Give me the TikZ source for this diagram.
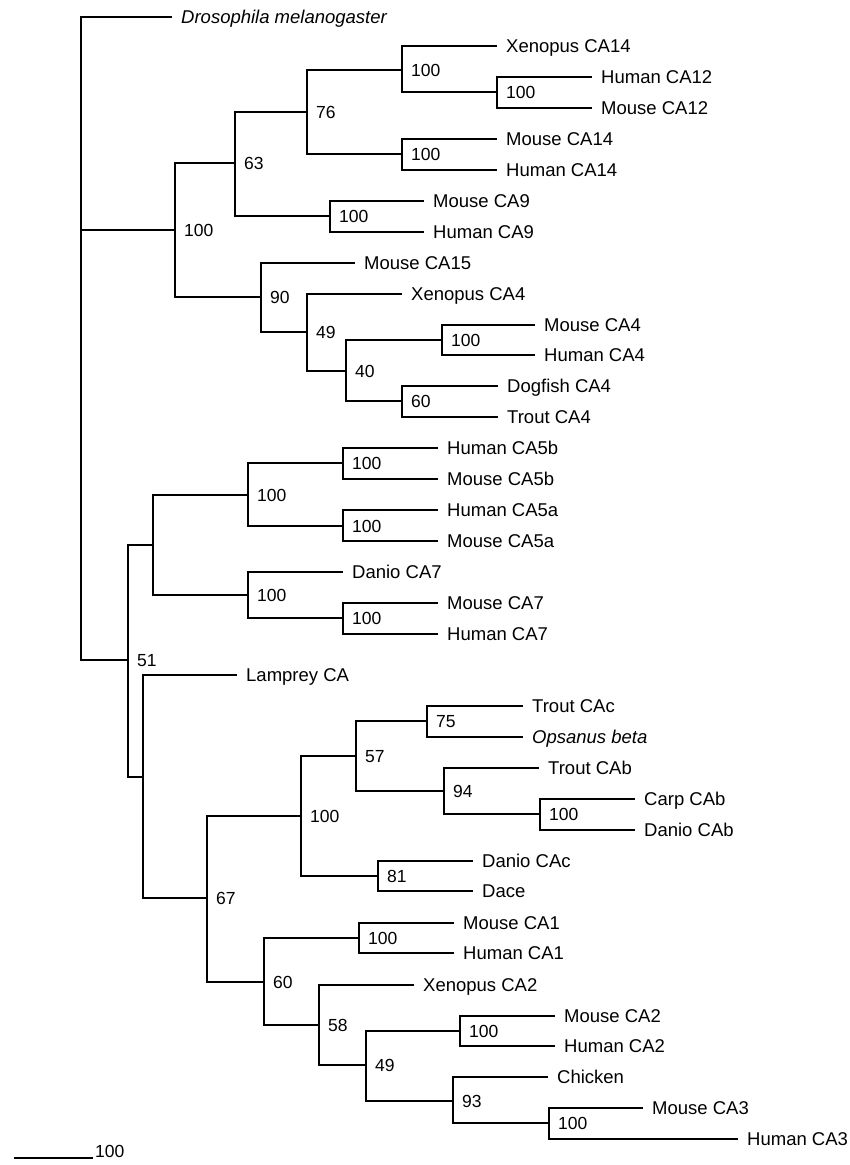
\documentclass[tikz,border=0pt]{standalone}
\usepackage{fontspec}
\setmainfont{Liberation Sans}
\usetikzlibrary{positioning}

\begin{document}
\begin{tikzpicture}[x=1pt,y=-1pt,
		branch/.style={line width=1.3pt},
		leaf/.style={anchor=west, inner xsep=9pt, inner ysep=0pt, text height=13.2pt, text depth=0pt, font=\fontsize{18.5}{20}\selectfont},
		supp/.style={anchor=west, inner xsep=9pt, inner ysep=0pt, text height=12.5pt, text depth=0pt, font=\fontsize{17.5}{19}\selectfont},
		junc/.style={anchor=west, inner sep=0pt, minimum size=0pt}]
		\useasboundingbox (0,0) rectangle (850,1165);

		% Root and outgroup
		\node[junc] (root) at (81,230) {};
		\node[leaf] (dros) at (172,17) {\itshape Drosophila melanogaster};

		% Upper clade
		\node[supp] (n100a) at (175,230) {100};
		\node[supp] (n63) at (235,163) {63};
		\node[supp] (n76) at (307,112) {76};
		\node[supp] (n100x) at (402,70) {100};
		\node[supp] (n100ca12) at (497,92) {100};
		\node[supp] (n100ca14) at (402,154) {100};
		\node[supp] (n100ca9) at (330,216) {100};
		\node[supp] (n90) at (261,297) {90};
		\node[supp] (n49a) at (307,332) {49};
		\node[supp] (n40) at (346,371) {40};
		\node[supp] (n100ca4) at (442,340) {100};
		\node[supp] (n60a) at (402,401) {60};

		\node[leaf] (xca14) at (497,46) {Xenopus CA14};
		\node[leaf] (hca12) at (592,77) {Human CA12};
		\node[leaf] (mca12) at (592,108) {Mouse CA12};
		\node[leaf] (mca14) at (497,139) {Mouse CA14};
		\node[leaf] (hca14) at (497,170) {Human CA14};
		\node[leaf] (mca9) at (424,201) {Mouse CA9};
		\node[leaf] (hca9) at (424,232) {Human CA9};
		\node[leaf] (mca15) at (355,263) {Mouse CA15};
		\node[leaf] (xca4) at (402,294) {Xenopus CA4};
		\node[leaf] (mca4) at (535,325) {Mouse CA4};
		\node[leaf] (hca4) at (535,355) {Human CA4};
		\node[leaf] (dca4) at (498,386) {Dogfish CA4};
		\node[leaf] (tca4) at (498,417) {Trout CA4};

		% CA5 / CA7 clade
		\node[supp] (n51) at (128,660) {51};
		\node[junc] (ca57) at (153,545) {};
		\node[supp] (n100ca5) at (248,495) {100};
		\node[supp] (n100ca5b) at (343,463) {100};
		\node[supp] (n100ca5a) at (343,526) {100};
		\node[supp] (n100ca7) at (248,595) {100};
		\node[supp] (n100ca7b) at (343,618) {100};

		\node[leaf] (hca5b) at (438,448) {Human CA5b};
		\node[leaf] (mca5b) at (438,479) {Mouse CA5b};
		\node[leaf] (hca5a) at (438,510) {Human CA5a};
		\node[leaf] (mca5a) at (438,541) {Mouse CA5a};
		\node[leaf] (dca7) at (343,572) {Danio CA7};
		\node[leaf] (mca7) at (438,603) {Mouse CA7};
		\node[leaf] (hca7) at (438,634) {Human CA7};

		% Lamprey and lower clade
		\node[junc] (lampj) at (143,777) {};
		\node[supp] (n67) at (207,898) {67};
		\node[supp] (n100c) at (301,816) {100};
		\node[supp] (n57) at (356,756) {57};
		\node[supp] (n75) at (427,721) {75};
		\node[supp] (n94) at (444,791) {94};
		\node[supp] (n100carp) at (540,814) {100};
		\node[supp] (n81) at (378,876) {81};
		\node[supp] (n60b) at (264,982) {60};
		\node[supp] (n100ca1) at (359,938) {100};
		\node[supp] (n58) at (319,1025) {58};
		\node[supp] (n49b) at (366,1065) {49};
		\node[supp] (n100ca2) at (460,1031) {100};
		\node[supp] (n93) at (453,1101) {93};
		\node[supp] (n100ca3) at (549,1123) {100};

		\node[leaf] (lamp) at (237,675) {Lamprey CA};
		\node[leaf] (tcac) at (523,706) {Trout CAc};
		\node[leaf] (opsb) at (523,737) {\itshape Opsanus beta};
		\node[leaf] (tcab) at (539,768) {Trout CAb};
		\node[leaf] (ccab) at (635,799) {Carp CAb};
		\node[leaf] (dcab) at (635,830) {Danio CAb};
		\node[leaf] (dcac) at (473,861) {Danio CAc};
		\node[leaf] (dace) at (473,891) {Dace};
		\node[leaf] (mca1) at (454,923) {Mouse CA1};
		\node[leaf] (hca1) at (454,953) {Human CA1};
		\node[leaf] (xca2) at (414,985) {Xenopus CA2};
		\node[leaf] (mca2) at (555,1016) {Mouse CA2};
		\node[leaf] (hca2) at (555,1046) {Human CA2};
		\node[leaf] (chick) at (548,1077) {Chicken};
		\node[leaf] (mca3) at (643,1108) {Mouse CA3};
		\node[leaf] (hca3) at (738,1139) {Human CA3};

		% Branches
		\foreach \p/\c in {root/dros, root/n100a, root/n51,
				n100a/n63, n100a/n90, n63/n76, n63/n100ca9, n76/n100x, n76/n100ca14,
				n100x/xca14, n100x/n100ca12, n100ca12/hca12, n100ca12/mca12,
				n100ca14/mca14, n100ca14/hca14, n100ca9/mca9, n100ca9/hca9,
				n90/mca15, n90/n49a, n49a/xca4, n49a/n40, n40/n100ca4, n40/n60a,
				n100ca4/mca4, n100ca4/hca4, n60a/dca4, n60a/tca4,
				n51/ca57, n51/lampj, ca57/n100ca5, ca57/n100ca7,
				n100ca5/n100ca5b, n100ca5/n100ca5a, n100ca5b/hca5b, n100ca5b/mca5b,
				n100ca5a/hca5a, n100ca5a/mca5a, n100ca7/dca7, n100ca7/n100ca7b,
				n100ca7b/mca7, n100ca7b/hca7,
				lampj/lamp, lampj/n67, n67/n100c, n67/n60b, n100c/n57, n100c/n81,
				n57/n75, n57/n94, n75/tcac, n75/opsb, n94/tcab, n94/n100carp,
				n100carp/ccab, n100carp/dcab, n81/dcac, n81/dace,
				n60b/n100ca1, n60b/n58, n100ca1/mca1, n100ca1/hca1,
				n58/xca2, n58/n49b, n49b/n100ca2, n49b/n93,
				n100ca2/mca2, n100ca2/hca2, n93/chick, n93/n100ca3,
				n100ca3/mca3, n100ca3/hca3}
			\draw[branch] (\p.west) |- (\c.west);

		% Scale bar
		\coordinate (sbl) at (14,1158);
		\coordinate (sbr) at (93,1158);
		\draw[branch] (sbl) -- (sbr);
		\node[supp, anchor=south west, inner xsep=2pt] (sblab) at (sbr) {100};
	\end{tikzpicture}
\end{document}
